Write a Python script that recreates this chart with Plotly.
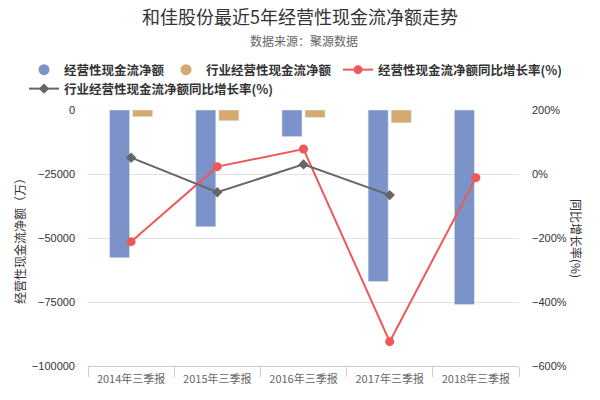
import plotly.graph_objects as go

categories = ["2014年三季报", "2015年三季报", "2016年三季报", "2017年三季报", "2018年三季报"]
cashflow = [-57700, -45600, -10400, -67000, -76000]
industry_cashflow = [-2600, -4200, -2900, -5000, None]
cashflow_yoy = [-211.5, 23, 78, -524, -11.5]
industry_yoy = [51, -57, 30, -66, None]

BLUE = "#7b93c9"
GOLD = "#d4aa70"
RED = "#ef5858"
GRAY = "#666666"
FONT = "Noto Sans CJK SC, sans-serif"
NUM_FONT = "Liberation Sans, Arial, sans-serif"

# plot area in pixels, used to place free text in paper coordinates
L, R, T, B = 88, 81, 110, 34
PW, PH = 600 - L - R, 400 - T - B


def px_x(x):
    return (x - L) / PW


def px_y(y):
    return 1 + (T - y) / PH


fig = go.Figure()
fig.add_bar(name="经营性现金流净额", x=categories, y=cashflow, marker_color=BLUE,
            yaxis="y", showlegend=False)
fig.add_bar(name="行业经营性现金流净额", x=categories, y=industry_cashflow, marker_color=GOLD,
            yaxis="y", showlegend=False)
# legend entries with round swatches, like the original
fig.add_scatter(name="经营性现金流净额", x=[None], y=[None], mode="markers",
                marker={"color": BLUE, "size": 11}, legend="legend")
fig.add_scatter(name="行业经营性现金流净额", x=[None], y=[None], mode="markers",
                marker={"color": GOLD, "size": 11}, legend="legend2")
fig.add_scatter(name="经营性现金流净额同比增长率(%)", x=categories, y=cashflow_yoy,
                mode="lines+markers", yaxis="y2", legend="legend3",
                line={"color": RED, "width": 2}, marker={"color": RED, "size": 9})
fig.add_scatter(name="行业经营性现金流净额同比增长率(%)", x=categories, y=industry_yoy,
                mode="lines+markers", yaxis="y2", legend="legend4",
                line={"color": GRAY, "width": 2},
                marker={"color": GRAY, "size": 8, "symbol": "diamond"})

legend_style = {"orientation": "h", "xanchor": "left", "yanchor": "middle",
                "font": {"size": 12.5, "color": "#333333", "weight": "bold"},
                "bgcolor": "rgba(0,0,0,0)", "itemwidth": 30}

fig.update_layout(
    width=600, height=400,
    margin={"l": L, "r": R, "t": T, "b": B, "autoexpand": False},
    paper_bgcolor="white", plot_bgcolor="white",
    font={"family": FONT, "color": "#333333", "size": 12},
    barmode="group", bargap=0.465, bargroupgap=0.13,
    title={"text": "和佳股份最近5年经营性现金流净额走势", "x": 0.5, "xanchor": "center",
           "y": 1 - 18 / 400, "yanchor": "middle", "font": {"size": 18, "color": "#333333"}},
    legend={**legend_style, "x": px_x(24), "y": px_y(70)},
    legend2={**legend_style, "x": px_x(166), "y": px_y(70)},
    legend3={**legend_style, "x": px_x(338), "y": px_y(70)},
    legend4={**legend_style, "x": px_x(24), "y": px_y(89)},
    showlegend=True,
    xaxis={"showline": True, "linecolor": "#cccccc", "ticks": "outside", "tickson": "boundaries",
           "ticklen": 10, "tickcolor": "#cccccc", "ticklabelstandoff": 3,
           "tickfont": {"color": "#666666", "size": 11}, "showgrid": False},
    yaxis={"range": [-100000, 0], "dtick": 25000, "gridcolor": "#e3e3e3", "zeroline": False,
           "tickformat": "d", "ticklabelstandoff": 12,
           "tickfont": {"size": 11, "color": "#333333", "family": NUM_FONT}},
    yaxis2={"range": [-600, 200], "dtick": 200, "overlaying": "y", "side": "right",
            "showgrid": False, "zeroline": False, "ticksuffix": "%", "ticklabelstandoff": 12,
            "tickfont": {"size": 11, "color": "#333333", "family": NUM_FONT}},
    annotations=[
        {"text": "数据来源：聚源数据", "x": 0.5, "y": px_y(40),
         "xanchor": "center", "yanchor": "middle",
         "showarrow": False, "font": {"size": 12, "color": "#666666"}},
        {"text": "经营性现金流净额（万）", "x": px_x(19), "y": 0.5,
         "xanchor": "center", "yanchor": "middle",
         "textangle": -90, "showarrow": False, "font": {"size": 12, "color": "#333333"}},
        {"text": "同比增长率(%)", "x": px_x(577), "y": 0.5,
         "xanchor": "center", "yanchor": "middle",
         "textangle": 90, "showarrow": False, "font": {"size": 12, "color": "#333333"}},
    ],
)
for ann in fig.layout.annotations:
    ann.update(xref="paper", yref="paper")

fig.write_html("out.html", config={"displayModeBar": False},
               post_script="document.body.style.margin='0';")
